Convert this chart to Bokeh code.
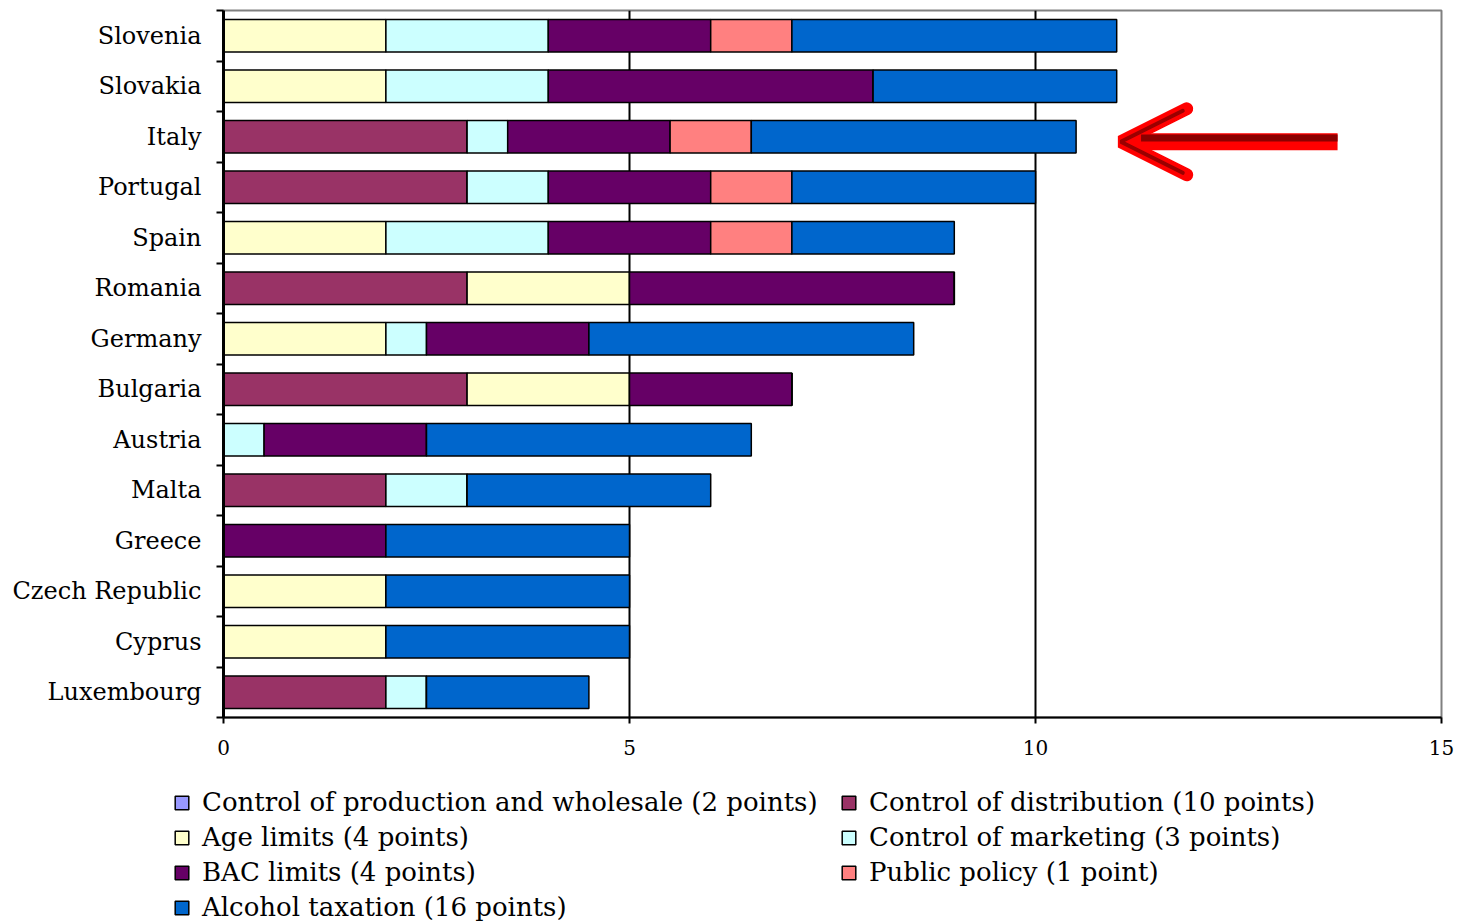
from bokeh.plotting import figure
from bokeh.models import (ColumnDataSource, FixedTicker, Legend, LegendItem,
                          Arrow, OpenHead, Range1d)
from bokeh.embed import file_html
from bokeh.resources import INLINE

# --- data -------------------------------------------------------------------
countries = ["Slovenia", "Slovakia", "Italy", "Portugal", "Spain", "Romania",
             "Germany", "Bulgaria", "Austria", "Malta", "Greece",
             "Czech Republic", "Cyprus", "Luxembourg"]

production    = [0, 0, 0, 0, 0, 0, 0, 0, 0, 0, 0, 0, 0, 0]
distribution  = [0, 0, 3, 3, 0, 3, 0, 3, 0, 2, 0, 0, 0, 2]
age_limits    = [2, 2, 0, 0, 2, 2, 2, 2, 0, 0, 0, 2, 2, 0]
marketing     = [2, 2, 0.5, 1, 2, 0, 0.5, 0, 0.5, 1, 0, 0, 0, 0.5]
bac_limits    = [2, 4, 2, 2, 2, 4, 2, 2, 2, 0, 2, 0, 0, 0]
public_policy = [1, 0, 1, 1, 1, 0, 0, 0, 0, 0, 0, 0, 0, 0]
taxation      = [4, 3, 4, 3, 2, 0, 4, 0, 4, 3, 3, 3, 3, 2]

series_keys = ["production", "distribution", "age_limits", "marketing",
               "bac_limits", "public_policy", "taxation"]
series_labels = ["Control of production and wholesale (2 points)",
                 "Control of distribution (10 points)",
                 "Age limits (4 points)",
                 "Control of marketing (3 points)",
                 "BAC limits (4 points)",
                 "Public policy (1 point)",
                 "Alcohol taxation (16 points)"]
series_colors = ["#9999FF", "#993366", "#FFFFCC", "#CCFFFF",
                 "#660066", "#FF8080", "#0066CC"]

x_ticks = [0, 5, 10, 15]
highlight = "Italy"

# --- source -----------------------------------------------------------------
n = len(countries)
pos = [n - 1 - i for i in range(n)]          # first country on top
src = ColumnDataSource(dict(
    pos=pos, country=countries,
    production=production, distribution=distribution, age_limits=age_limits,
    marketing=marketing, bac_limits=bac_limits, public_policy=public_policy,
    taxation=taxation))

SERIF = "DejaVu Serif"
W = 1457
BAR_STYLE = dict(y="pos", height=0.64, source=src, fill_color=series_colors,
                 line_color="black", line_width=1.5)

# --- chart --------------------------------------------------------------------
p = figure(width=W, height=770, output_backend="svg", toolbar_location=None,
           x_range=Range1d(0, 15), y_range=Range1d(-0.5, n - 0.5),
           min_border_left=223, min_border_right=16, min_border_top=10,
           min_border_bottom=53)

p.hbar_stack(series_keys, **BAR_STYLE)

yax = p.yaxis[0]
yax.ticker = FixedTicker(ticks=pos, minor_ticks=[k - 0.5 for k in range(n + 1)])
yax.major_label_overrides = {pp: c for pp, c in zip(pos, countries)}
yax.major_tick_line_color = None
yax.major_tick_out = 0
yax.minor_tick_out = 7
yax.minor_tick_in = 0
yax.minor_tick_line_color = "black"
yax.minor_tick_line_width = 2
yax.axis_line_color = "black"
yax.axis_line_width = 3
yax.major_label_standoff = 15
yax.major_label_text_font = SERIF
yax.major_label_text_font_size = "24px"
yax.major_label_text_color = "black"

xax = p.xaxis[0]
xax.ticker = FixedTicker(ticks=x_ticks, minor_ticks=[])
xax.major_tick_out = 6
xax.major_tick_in = 0
xax.major_tick_line_color = "black"
xax.major_tick_line_width = 2
xax.axis_line_color = "black"
xax.axis_line_width = 2
xax.major_label_standoff = 16
xax.major_label_text_font = SERIF
xax.major_label_text_font_size = "20px"
xax.major_label_text_color = "black"

p.xgrid.ticker = FixedTicker(ticks=x_ticks[1:-1])
p.xgrid.grid_line_color = "black"
p.xgrid.grid_line_width = 2
p.ygrid.grid_line_color = None

p.outline_line_color = "#808080"
p.outline_line_width = 2
p.background_fill_color = "white"
p.border_fill_color = "white"

# arrow pointing at the highlighted country
hi = countries.index(highlight)
hi_total = (distribution[hi] + age_limits[hi] + marketing[hi] + bac_limits[hi]
            + public_policy[hi] + taxation[hi])
hi_y = pos[hi] - 0.1
p.add_layout(Arrow(x_start=hi_total + 3.22, y_start=hi_y,
                   x_end=hi_total + 0.55, y_end=hi_y,
                   line_color="#FF0000", line_width=17,
                   end=OpenHead(size=66, line_color="#FF0000", line_width=13,
                                line_cap="round")))
p.add_layout(Arrow(x_start=hi_total + 3.22, y_start=hi_y + 0.075,
                   x_end=hi_total + 0.8, y_end=hi_y + 0.075,
                   line_color="#8B0000", line_width=7, end=None))
p.add_layout(Arrow(x_start=hi_total + 1.2, y_start=hi_y,
                   x_end=hi_total + 0.55, y_end=hi_y,
                   line_alpha=0,
                   end=OpenHead(size=62, line_color="#9A0000", line_width=4,
                                line_cap="round")))

# --- legend strip: the same series, muted to invisibility, only keyed ---------
lf = figure(width=W, height=152, output_backend="svg", toolbar_location=None,
            x_range=Range1d(100, 101), y_range=Range1d(100, 101),
            x_axis_location=None, y_axis_location=None,
            min_border_left=0, min_border_right=0, min_border_top=0,
            min_border_bottom=0)
lf.outline_line_color = None
lf.xgrid.grid_line_color = None
lf.ygrid.grid_line_color = None
lf.border_fill_color = "white"
lf.background_fill_color = "white"

keys = lf.hbar_stack(series_keys, muted=True, muted_alpha=0, **BAR_STYLE)


def make_legend(idx, loc):
    items = [LegendItem(label=series_labels[i], renderers=[keys[i]])
             for i in idx]
    return Legend(items=items, location=loc, orientation="vertical",
                  label_text_font=SERIF, label_text_font_size="26px",
                  label_text_color="black", label_height=30,
                  glyph_width=17, glyph_height=17, label_standoff=12,
                  spacing=5, padding=0, margin=0, click_policy="none",
                  border_line_color=None, background_fill_alpha=0)


lf.add_layout(make_legend([0, 2, 4, 6], (173, 0)))
lf.add_layout(make_legend([1, 3, 5], (840, 35)))

open("out.html", "w").write(file_html([p, lf], INLINE))
